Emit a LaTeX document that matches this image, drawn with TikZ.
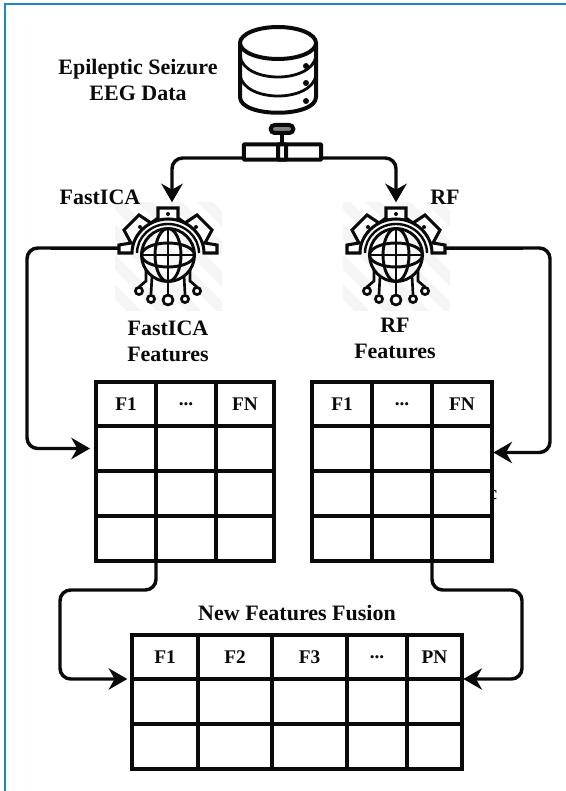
\documentclass[tikz,border=0pt]{standalone}
\usepackage{fontspec}
\setmainfont{Liberation Serif}
\usetikzlibrary{arrows.meta,positioning,calc}
\definecolor{framebl}{HTML}{1E88C0}
\definecolor{ink}{HTML}{0A0A0A}
\definecolor{stripegray}{HTML}{F5F5F5}
\newcommand{\moredots}{...}
\tikzset{
  label/.style={align=center,font=\fontsize{16.5}{19.5}\selectfont\bfseries,text=ink,inner sep=0pt},
  cell/.style={draw=ink,fill=white,line width=2.7pt,inner sep=0pt,outer sep=0pt,
               font=\fontsize{14.5}{17}\selectfont\bfseries,text=ink},
  flowarr/.style={-{Stealth[length=14pt,width=16pt,inset=4.5pt]},line width=2.6pt,
                  draw=ink,rounded corners=8pt},
  iconslot/.style={minimum size=75pt,inner sep=0pt,outer sep=0pt},
  busbar/.style={draw=ink,fill=white,line width=3pt,inner sep=0pt,outer sep=0pt,
                 rounded corners=0.6pt},
  gearicon/.pic={
    \begin{scope}
      \clip (-53,-52) rectangle (54,55);
      \foreach \d in {-90,-60,-30,0,30,60,90}
        \draw[stripegray,line width=8pt] (-70+\d,-70) -- (70+\d,70);
    \end{scope}
    \draw[ink,line width=2.3pt,line join=miter,fill=white]
      (-36,-2) -- (-49,-2) -- (-49,-10) -- (-37,-12) -- (-44,-25) -- (-29,-40) -- (-17,-32)
      -- (-10,-37) -- (-10,-47) -- (10,-47) -- (10,-37) -- (17,-32) -- (29,-40) -- (44,-25)
      -- (37,-12) -- (49,-10) -- (49,-2) -- (36,-2)
      .. controls (36,-20) and (20,-36) .. (0,-36)
      .. controls (-20,-36) and (-36,-20) .. (-36,-2) -- cycle;
    \draw[ink,line width=1.8pt] (-31,-2) .. controls (-31,-18) and (-17,-31) .. (0,-31)
      .. controls (17,-31) and (31,-18) .. (31,-2);
    \foreach \p in {(0,-41),(-28,-28),(28,-28)}
      \fill[ink] \p circle (2);
    \draw[ink,line width=2.2pt] (0,0) circle (26.5);
    \draw[ink,line width=2.2pt] (0,0) ellipse [x radius=13,y radius=26.5];
    \draw[ink,line width=2.2pt] (0,0) ellipse [x radius=26.5,y radius=12];
    \draw[ink,line width=2.2pt] (0,-26) -- (0,40);
    \draw[ink,line width=2.2pt] (-26,0) -- (26,0);
    \draw[ink,line width=2pt] (-16,21) -- (-17,39);
    \draw[ink,line width=2pt] (16,21) -- (17,39);
    \draw[ink,line width=2pt] (-22,15) -- (-22,26) -- (-29,32);
    \draw[ink,line width=2pt] (22,15) -- (22,26) -- (29,32);
    \draw[ink,line width=2pt,fill=white] (0,45) circle (5);
    \foreach \x in {-17,17}
      \draw[ink,line width=2pt,fill=white] (\x,44) circle (3.6);
    \foreach \x in {-29,29}
      \draw[ink,line width=2pt,fill=white] (\x,36) circle (3.6);
  }
}
\begin{document}
\begin{tikzpicture}[x=0.75pt,y=-0.75pt]
    \useasboundingbox (0,0) rectangle (566,791);

    % frame
    \draw[framebl,line width=2pt] (5,791) -- (5,4) -- (566,4);

    % database
    \draw[ink,line width=3pt,line join=round] (240,43) -- (240,97)
      .. controls (240,118) and (316,118) .. (316,97) -- (316,43);
    \draw[ink,line width=3pt] (278,43) ellipse [x radius=38,y radius=16];
    \draw[ink,line width=2.1pt] (240,56) .. controls (244,84) and (312,84) .. (316,56);
    \draw[ink,line width=2.1pt] (240,75) .. controls (244,103) and (312,103) .. (316,75);
    \foreach \y in {66,83,101}
      \fill[ink] (306,\y) circle (3);

    \node[busbar,minimum width=58pt,minimum height=11.5pt] (bus) at (282.5,152) {};
    \node[busbar,minimum width=6pt,minimum height=11.5pt] (buscore) at (282,152) {};
    \node[busbar,fill=gray,minimum width=17pt,minimum height=6pt,rounded corners=3pt] (buscap) at (282,129) {};
    \draw[ink,line width=3pt] (buscap.south) -- (buscore.north);

    % icons
    \node[iconslot] (fastica) at (168,255) {};
    \node[iconslot] (rfica) at (396,255) {};
    \pic at (fastica) {gearicon};
    \pic at (rfica) {gearicon};

    \node[label] (title) at (138,80) {Epileptic Seizure\\EEG Data};
    \node[label] (falabel) at (100,197) {FastICA};
    \node[label] (rflabel) at (445,197) {RF};
    \node[label] (fafeat) at (168,341) {FastICA\\Features};
    \node[label] (rffeat) at (395,338) {RF\\Features};
    \node[label] (newfeat) at (297,613) {New Features Fusion};

    % stray letter behind the right table
    \node[cell,draw=none,fill=none] (stray) at (493,495) {c};

    % tables
    \foreach \cx/\cw/\ct [count=\i] in {126/60/F1,186/60/\moredots,245/58/FN}
      \foreach \ry/\rh/\rt [count=\j] in {404/44/\ct,448.5/45/,493.5/45/,538.5/45/}
        \node[cell,minimum width=\cw*0.75pt,minimum height=\rh*0.75pt] (fa-\i-\j) at (\cx,\ry) {\rt};
    \foreach \cx/\cw/\ct [count=\i] in {342/60/F1,402/60/\moredots,462/60/FN}
      \foreach \ry/\rh/\rt [count=\j] in {404/44/\ct,448.5/45/,493.5/45/,538.5/45/}
        \node[cell,minimum width=\cw*0.75pt,minimum height=\rh*0.75pt] (rf-\i-\j) at (\cx,\ry) {\rt};
    \foreach \cx/\cw/\ct [count=\i] in {165/66/F1,235/74/F2,309.5/75/F3,377/60/\moredots,434.5/55/PN}
      \foreach \ry/\rh/\rt [count=\j] in {657/44/\ct,701.5/45/,746.5/45/}
        \node[cell,minimum width=\cw*0.75pt,minimum height=\rh*0.75pt] (nf-\i-\j) at (\cx,\ry) {\rt};

    % connectors
    \coordinate (faleft) at (27,248);
    \coordinate (rfright) at (550,248);
    \coordinate (lowleft) at (60,590);
    \coordinate (lowright) at (522,590);

    \draw[flowarr,shorten >=2pt] ([yshift=-4.5pt]bus.west) -| ([xshift=3pt]fastica.north);
    \draw[flowarr,shorten >=2pt] ([yshift=-4.5pt]bus.east) -| (rfica.north);
    \draw[flowarr,shorten >=4.5pt] ([yshift=5.2pt]fastica.west) -- (faleft) |- (fa-1-2.west);
    \draw[flowarr,shorten >=1pt] ([yshift=5.2pt]rfica.east) -- (rfright) |- ([yshift=-3pt]rf-3-2.east);
    \draw[flowarr,shorten >=3.5pt] (fa-1-4.south east) |- (lowleft) |- (nf-1-2.north west);
    \draw[flowarr,shorten >=1pt] (rf-2-4.south east) |- (lowright) |- (nf-5-2.north east);
  \end{tikzpicture}
\end{document}
